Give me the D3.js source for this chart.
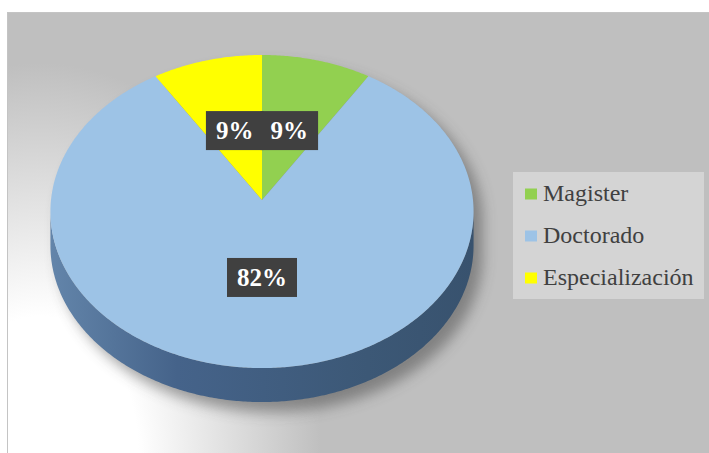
<!DOCTYPE html>
<html>
<head>
<meta charset="utf-8">
<script src="https://cdn.jsdelivr.net/npm/d3@7"></script>
<style>
  body { margin: 0; background: #fff; }
  svg { display: block; }
</style>
</head>
<body>
<div id="chart"></div>
<script>
// data
const categories = ["Magister", "Doctorado", "Especialización"];
const values = [9, 82, 9];
const labels = ["9%", "82%", "9%"];
const colors = ["#92d050", "#9dc3e6", "#ffff00"];

const layout = {
  width: 709,
  height: 453,
  cx: 262,
  cy: 200,
  rx: 211,
  ry: 155.7,
  persp: 0.0735,
  depth: 34,
  labelR: 0.48
};

const svg = d3.select("#chart").append("svg")
  .attr("width", layout.width)
  .attr("height", layout.height);

const defs = svg.append("defs");

// background glow
const bg = defs.append("radialGradient")
  .attr("id", "bg-grad")
  .attr("gradientUnits", "userSpaceOnUse")
  .attr("cx", 40).attr("cy", 453).attr("r", 390)
  .attr("gradientTransform", "translate(40,453) scale(0.72,1) translate(-40,-453)");
bg.append("stop").attr("offset", 0).attr("stop-color", "#ffffff");
bg.append("stop").attr("offset", 0.35).attr("stop-color", "#ffffff");
bg.append("stop").attr("offset", 1).attr("stop-color", "#bfbfbf");

const side = defs.append("linearGradient").attr("id", "side-grad")
  .attr("x1", 0).attr("x2", 1).attr("y1", 0).attr("y2", 0);
side.append("stop").attr("offset", 0).attr("stop-color", "#6385aa");
side.append("stop").attr("offset", 0.3).attr("stop-color", "#45638a");
side.append("stop").attr("offset", 0.75).attr("stop-color", "#3c5876");
side.append("stop").attr("offset", 1).attr("stop-color", "#38526e");

const blur = defs.append("filter").attr("id", "shadow")
  .attr("x", "-20%").attr("y", "-20%").attr("width", "140%").attr("height", "140%");
blur.append("feGaussianBlur").attr("stdDeviation", 7);

svg.append("rect")
  .attr("x", 7.5).attr("y", 12.5)
  .attr("width", layout.width).attr("height", layout.height)
  .attr("fill", "url(#bg-grad)")
  .attr("stroke", "#c4c4c4");

// projection of a point on the unit disc (angle from 12 o'clock, clockwise)
const px = d3.scaleLinear().domain([-1, 1]).range([layout.cx - layout.rx, layout.cx + layout.rx]);
const py = d3.scaleLinear().domain([-1, 1]).range([layout.cy - layout.ry, layout.cy + layout.ry]);
function project(a, r = 1, dy = 0) {
  const u = r * Math.sin(a), v = -r * Math.cos(a);
  const s = 1 - layout.persp * v;
  return [px(u / s), py(v / s) + dy];
}

const pie = d3.pie().sort(null).value(d => d)(values);
const line = d3.line();

function sliceShape(d) {
  const n = Math.max(4, Math.ceil((d.endAngle - d.startAngle) / 0.01));
  const pts = [project(0, 0)];
  d3.range(n + 1).forEach(i => {
    pts.push(project(d.startAngle + (d.endAngle - d.startAngle) * i / n));
  });
  return line(pts) + "Z";
}

// visible extremes of the rim
const samples = d3.range(0, 2 * Math.PI, 0.002);
const aRight = samples[d3.maxIndex(samples, a => project(a)[0])];
const aLeft = samples[d3.minIndex(samples, a => project(a)[0])];

function rimShape(dx, dy) {
  const front = d3.range(aRight, aLeft, 0.01).concat([aLeft]);
  const top = front.map(a => project(a)).map(p => [p[0] + dx, p[1] + dy]);
  const bot = front.slice().reverse().map(a => project(a, 1, layout.depth)).map(p => [p[0] + dx, p[1] + dy]);
  return line(top.concat(bot)) + "Z";
}

function outlineShape(dx, dy) {
  const all = d3.range(0, 2 * Math.PI, 0.01).map(a => project(a)).map(p => [p[0] + dx, p[1] + dy]);
  return line(all) + "Z";
}

// shadow
const shadowG = svg.append("g").attr("filter", "url(#shadow)").attr("opacity", 0.5);
shadowG.append("path").attr("d", outlineShape(9, 10)).attr("fill", "#444");
shadowG.append("path").attr("d", rimShape(9, 10)).attr("fill", "#444");

// side wall
svg.append("path")
  .attr("d", rimShape(0, 0))
  .attr("fill", "url(#side-grad)");

// top faces
svg.append("g").selectAll("path")
  .data(pie)
  .join("path")
  .attr("d", sliceShape)
  .attr("fill", (d, i) => colors[i]);

// data labels
const lab = svg.append("g").selectAll("g")
  .data(pie)
  .join("g")
  .attr("transform", d => {
    const p = project((d.startAngle + d.endAngle) / 2, layout.labelR);
    return `translate(${p[0]},${p[1]})`;
  });
lab.append("text")
  .attr("text-anchor", "middle")
  .attr("dy", "0.35em")
  .attr("font-family", "'Liberation Serif', 'Times New Roman', serif")
  .attr("font-weight", "bold")
  .attr("font-size", 25)
  .attr("fill", "#ffffff")
  .text((d, i) => labels[i]);
lab.insert("rect", "text")
  .each(function () {
    const w = this.parentNode.querySelector("text").getBBox().width + 20;
    d3.select(this)
      .attr("x", -w / 2).attr("y", -19.5)
      .attr("width", w).attr("height", 39);
  })
  .attr("fill", "#404040");

// legend
const legend = svg.append("g");
legend.append("rect")
  .attr("x", 513).attr("y", 172)
  .attr("width", 191).attr("height", 127)
  .attr("fill", "#d4d4d4");
const ly = d3.scalePoint().domain(categories).range([200.5, 284.5]);
const items = legend.selectAll("g.item")
  .data(categories)
  .join("g")
  .attr("class", "item")
  .attr("transform", d => `translate(525,${ly(d)})`);
items.append("rect")
  .attr("x", 0).attr("y", -12)
  .attr("width", 12).attr("height", 11)
  .attr("fill", (d, i) => colors[i]);
items.append("text")
  .attr("x", 18)
  .attr("y", 0)
  .attr("font-family", "'Liberation Serif', 'Times New Roman', serif")
  .attr("font-size", 24)
  .attr("fill", "#404040")
  .text(d => d);
</script>
</body>
</html>
